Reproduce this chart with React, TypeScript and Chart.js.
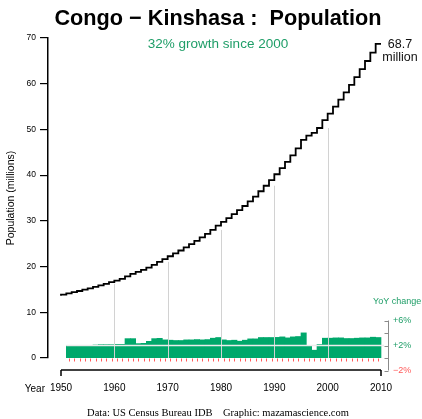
import React, { useEffect, useRef } from "react";
import { Chart, registerables } from "chart.js";

Chart.register(...registerables);

// ---------- data ----------
const YEARS = [
  1950, 1951, 1952, 1953, 1954, 1955, 1956, 1957, 1958, 1959,
  1960, 1961, 1962, 1963, 1964, 1965, 1966, 1967, 1968, 1969,
  1970, 1971, 1972, 1973, 1974, 1975, 1976, 1977, 1978, 1979,
  1980, 1981, 1982, 1983, 1984, 1985, 1986, 1987, 1988, 1989,
  1990, 1991, 1992, 1993, 1994, 1995, 1996, 1997, 1998, 1999,
  2000, 2001, 2002, 2003, 2004, 2005, 2006, 2007, 2008, 2009,
  2010,
];

// population, millions
const POPULATION = [
  13.6, 13.85, 14.12, 14.39, 14.66, 14.94, 15.24, 15.56, 15.89, 16.23,
  16.58, 16.94, 17.31, 17.85, 18.4, 18.82, 19.26, 19.77, 20.39, 21.03,
  21.64, 22.26, 22.88, 23.52, 24.2, 24.9, 25.63, 26.38, 27.16, 28.02,
  28.94, 29.78, 30.61, 31.48, 32.33, 33.25, 34.27, 35.32, 36.48, 37.68,
  38.91, 40.19, 41.55, 42.89, 44.34, 45.87, 47.71, 48.64, 49.25, 50.31,
  52.05, 53.47, 54.98, 56.53, 58.12, 59.76, 61.45, 63.18, 64.97, 66.8,
  68.7,
];

// year-over-year change (%), bar for year Y spans Y-1 .. Y
const YOY_YEARS = [
  1952, 1953, 1954, 1955, 1956, 1957, 1958, 1959, 1960, 1961,
  1962, 1963, 1964, 1965, 1966, 1967, 1968, 1969, 1970, 1971,
  1972, 1973, 1974, 1975, 1976, 1977, 1978, 1979, 1980, 1981,
  1982, 1983, 1984, 1985, 1986, 1987, 1988, 1989, 1990, 1991,
  1992, 1993, 1994, 1995, 1996, 1997, 1998, 1999, 2000, 2001,
  2002, 2003, 2004, 2005, 2006, 2007, 2008, 2009, 2010,
];
const YOY = [
  1.92, 1.92, 1.92, 1.92, 1.98, 2.08, 2.14, 2.14, 2.14, 2.19,
  2.19, 3.1, 3.1, 2.3, 2.35, 2.67, 3.1, 3.15, 2.9, 2.85,
  2.8, 2.8, 2.9, 2.9, 2.95, 2.9, 2.95, 3.17, 3.28, 2.9,
  2.8, 2.85, 2.69, 2.85, 3.06, 3.06, 3.28, 3.28, 3.28, 3.3,
  3.38, 3.22, 3.38, 3.44, 4.02, 1.94, 1.25, 2.16, 3.17, 3.17,
  3.22, 3.22, 3.12, 3.12, 3.17, 3.22, 3.22, 3.33, 3.28,
];

const X_TICKS = [1950, 1960, 1970, 1980, 1990, 2000, 2010];
const Y_TICKS = [0, 10, 20, 30, 40, 50, 60, 70];
const GRID_YEARS = [1960, 1970, 1980, 1990, 2000];
const YOY_TICKS = [6, 4, 2, 0, -2];
const YOY_LABELS = ["+6%", "+2%", "\u22122%"];
const YOY_LABEL_VALUES = [6, 2, -2];

const TITLE = "Congo \u2212 Kinshasa :  Population";
const FOOTER = "Data: US Census Bureau IDB    Graphic: mazamascience.com";

const SANS = "'Liberation Sans', Arial, Helvetica, sans-serif";
const SERIF = "'Liberation Serif', 'Times New Roman', serif";
const GREEN = "#00a86b";
const GREEN_TEXT = "#1f9e68";
const RED = "#ff5a5a";

export default function App() {
  const ref = useRef<HTMLCanvasElement | null>(null);

  useEffect(() => {
    const canvas = ref.current;
    if (!canvas) return;

    const pop2000 = POPULATION[YEARS.indexOf(2000)];
    const popLast = POPULATION[POPULATION.length - 1];
    const growth = Math.round((popLast / pop2000 - 1) * 100);

    const overlay = {
      id: "overlay",
      afterDatasetDraw(chart: any, args: any) {
        if (args.index !== 1) return;
        const ctx = chart.ctx;
        const xs = chart.scales.x;
        const ys = chart.scales.y;
        const y2 = chart.scales.y2;
        ctx.save();
        // decade guide lines
        ctx.strokeStyle = "#d2d2d2";
        ctx.lineWidth = 1;
        GRID_YEARS.forEach((yr) => {
          const i = YEARS.indexOf(yr);
          const x = Math.round(xs.getPixelForValue(yr)) + 0.5;
          ctx.beginPath();
          ctx.moveTo(x, ys.getPixelForValue(POPULATION[i - 1]));
          ctx.lineTo(x, ys.getPixelForValue(0));
          ctx.stroke();
        });
        // +2% reference line across bars
        const y2p = y2.getPixelForValue(2);
        ctx.strokeStyle = "rgba(236,236,236,1)";
        ctx.lineWidth = 1.3;
        ctx.beginPath();
        ctx.moveTo(xs.getPixelForValue(YOY_YEARS[0] - 1), y2p);
        ctx.lineTo(xs.getPixelForValue(YOY_YEARS[YOY_YEARS.length - 1]) + 3, y2p);
        ctx.stroke();
        // red ticks under bars
        const base = y2.getPixelForValue(0);
        ctx.strokeStyle = RED;
        ctx.lineWidth = 1;
        YOY_YEARS.forEach((yr) => {
          const x = Math.round(xs.getPixelForValue(yr - 0.5)) + 0.5;
          ctx.beginPath();
          ctx.moveTo(x, base + 0.5);
          ctx.lineTo(x, base + 3.5);
          ctx.stroke();
        });
        ctx.restore();
      },
      afterDraw(chart: any) {
        const ctx = chart.ctx;
        const xs = chart.scales.x;
        const ys = chart.scales.y;
        const y2 = chart.scales.y2;
        const area = chart.chartArea;
        ctx.save();

        // x axis line and end ticks
        const axY = 370;
        const x0 = xs.getPixelForValue(X_TICKS[0]);
        const x1 = xs.getPixelForValue(X_TICKS[X_TICKS.length - 1]);
        ctx.strokeStyle = "#000";
        ctx.lineWidth = 1.5;
        ctx.beginPath();
        ctx.moveTo(x0, axY);
        ctx.lineTo(x1, axY);
        ctx.stroke();
        [x0, x1].forEach((x) => {
          ctx.beginPath();
          ctx.moveTo(x, axY);
          ctx.lineTo(x, axY + 6);
          ctx.stroke();
        });
        ctx.fillStyle = "#000";
        ctx.font = `10px ${SANS}`;
        ctx.textAlign = "right";
        ctx.textBaseline = "alphabetic";
        ctx.fillText("Year", x0 - 16, 391.7);

        // right YoY axis
        const rx = area.right + 0.5;
        ctx.strokeStyle = "#8a8a8a";
        ctx.lineWidth = 1;
        ctx.beginPath();
        ctx.moveTo(rx, y2.getPixelForValue(YOY_TICKS[0]));
        ctx.lineTo(rx, y2.getPixelForValue(YOY_TICKS[YOY_TICKS.length - 1]));
        ctx.stroke();
        YOY_TICKS.forEach((v) => {
          const y = Math.round(y2.getPixelForValue(v)) + 0.5;
          ctx.beginPath();
          ctx.moveTo(rx - 4, y);
          ctx.lineTo(rx, y);
          ctx.stroke();
        });
        ctx.font = `9px ${SANS}`;
        ctx.textAlign = "left";
        ctx.textBaseline = "middle";
        YOY_LABEL_VALUES.forEach((v, i) => {
          ctx.fillStyle = v < 0 ? RED : GREEN_TEXT;
          ctx.fillText(YOY_LABELS[i], rx + 4.5, y2.getPixelForValue(v) + 0.5);
        });
        ctx.fillStyle = GREEN_TEXT;
        ctx.textBaseline = "alphabetic";
        ctx.fillText("YoY change", 373, 303.8);

        // title
        ctx.fillStyle = "#000";
        ctx.textAlign = "center";
        ctx.font = `bold 21.7px ${SANS}`;
        const cx = (area.left + area.right) / 2;
        ctx.fillText(TITLE, cx, 25);

        // growth annotation
        ctx.fillStyle = GREEN_TEXT;
        ctx.font = `13.5px ${SANS}`;
        ctx.fillText(`${growth}% growth since 2000`, cx, 48.3);

        // last value annotation
        ctx.fillStyle = "#111";
        ctx.font = `12.5px ${SANS}`;
        const lx = x1 + 19;
        const ly = ys.getPixelForValue(popLast);
        ctx.fillText(popLast.toFixed(1), lx, ly + 4.5);
        ctx.fillText("million", lx, ly + 16.8);

        // footer
        ctx.fillStyle = "#000";
        ctx.font = `10.5px ${SERIF}`;
        ctx.fillText(FOOTER, cx, 415.5);

        ctx.restore();
      },
    };

    const chart = new Chart(canvas, {
      type: "line",
      data: {
        datasets: [
          {
            type: "line",
            data: YEARS.map((yr, i) => ({ x: yr, y: POPULATION[i] })),
            xAxisID: "x",
            yAxisID: "y",
            stepped: "after",
            borderColor: "#000",
            borderWidth: 1.8,
            pointRadius: 0,
            fill: false,
            order: 0,
          } as any,
          {
            type: "bar",
            data: YOY_YEARS.map((yr, i) => ({ x: yr - 0.5, y: YOY[i] })),
            xAxisID: "x",
            yAxisID: "y2",
            backgroundColor: GREEN,
            borderWidth: 0,
            barPercentage: 1,
            categoryPercentage: 1,
            order: 1,
          } as any,
        ],
      },
      options: {
        animation: false,
        responsive: false,
        devicePixelRatio: 1,
        layout: { padding: { left: 0, right: 34, top: 38, bottom: 0 } },
        plugins: { legend: { display: false }, tooltip: { enabled: false } },
        scales: {
          x: {
            type: "linear",
            min: 1947.5625,
            max: 2011.3125,
            offset: false,
            afterBuildTicks: (s: any) => {
              s.ticks = X_TICKS.map((v) => ({ value: v }));
            },
            afterFit: (s: any) => {
              s.height = 61;
            },
            grid: { display: false, drawTicks: false },
            border: { display: false },
            ticks: {
              autoSkip: false,
              maxRotation: 0,
              padding: 24.5,
              color: "#000",
              font: { family: SANS, size: 10 },
              callback: (v: any) => String(v),
            },
          },
          y: {
            type: "linear",
            position: "left",
            min: 0,
            max: 70,
            afterBuildTicks: (s: any) => {
              s.ticks = Y_TICKS.map((v) => ({ value: v }));
            },
            afterFit: (s: any) => {
              s.width = 48;
            },
            grid: {
              drawOnChartArea: false,
              drawTicks: true,
              tickLength: 8,
              color: "#000",
              lineWidth: 1.2,
            },
            border: { display: true, color: "#000", width: 1.5 },
            ticks: {
              padding: 4,
              color: "#000",
              font: { family: SANS, size: 8.5 },
              callback: (v: any) => String(v),
            },
            title: {
              display: true,
              text: "Population (millions)",
              color: "#000",
              font: { family: SANS, size: 10.5 },
              padding: { top: 4.5, bottom: 0 },
            },
          },
          y2: {
            type: "linear",
            display: false,
            min: 0,
            max: 51.2,
          },
        },
      } as any,
      plugins: [overlay],
    });

    return () => chart.destroy();
  }, []);

  return (
    <div style={{ position: "absolute", left: 0, top: 0, width: 422, height: 419, background: "#fff" }}>
      <canvas ref={ref} width={422} height={419} style={{ display: "block" }} />
    </div>
  );
}
